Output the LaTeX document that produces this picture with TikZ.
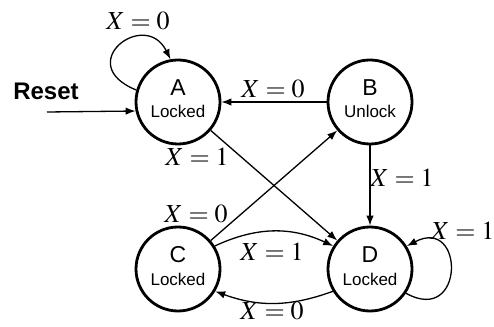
\documentclass[tikz,border=0pt]{standalone}
\usepackage{mathptmx}
\usepackage[no-math]{fontspec}
\setsansfont{Liberation Sans}
\usetikzlibrary{arrows.meta}
\tikzset{
  statecirc/.style={circle, draw, line width=2.8pt, minimum size=84pt, inner sep=0pt},
  letter/.style={font=\sffamily\fontsize{23}{23}\selectfont, anchor=base, inner sep=0pt},
  sub/.style={font=\sffamily\fontsize{17}{17}\selectfont, anchor=base, inner sep=0pt},
  lbl/.style={font=\fontsize{26}{28}\selectfont, inner sep=0pt},
  conn/.style={line width=1.3pt, -{Latex[length=10pt,width=7.5pt]}}
}
\begin{document}
\begin{tikzpicture}[x=1pt,y=1pt]
\useasboundingbox (0,0) rectangle (494,326);
% states
\node[statecirc] (A) at (178,224) {};
\node[statecirc] (B) at (370,224) {};
\node[statecirc] (C) at (178,57) {};
\node[statecirc] (D) at (370,57) {};
\node[letter] (At) at (178,230) {A};
\node[sub] (As) at (178,208) {Locked};
\node[letter] (Bt) at (370,230) {B};
\node[sub] (Bs) at (370,208) {Unlock};
\node[letter] (Ct) at (178,63) {C};
\node[sub] (Cs) at (178,41) {Locked};
\node[letter] (Dt) at (370,63) {D};
\node[sub] (Ds) at (370,41) {Locked};
% reset
\node[font=\sffamily\bfseries\fontsize{24}{26}\selectfont, inner sep=0pt] (reset) at (46,235) {Reset};
\coordinate (rs) at (47,214);
\draw[conn] (rs) -- (A.192);
% A self loop
\draw[conn] (A.164) .. controls (72,262) and (145,318) .. (A.100);
\node[lbl] (l1) at (138,305) {$X=0$};
% B -> A
\draw[conn] (B) -- (A);
\node[lbl] (l2) at (273,237) {$X=0$};
% A -> D
\draw[conn] (A) -- (D);
\node[lbl] (l3) at (197,169) {$X=1$};
% C -> B
\draw[conn] (C) -- (B);
\node[lbl] (l4) at (196,112) {$X=0$};
% B -> D
\draw[conn] (B) -- (D);
\node[lbl] (l5) at (402,148) {$X=1$};
% C -> D
\draw[conn] (C.32) to[out=25,in=155] (D.148);
\node[lbl] (l6) at (272,74) {$X=1$};
% D -> C
\draw[conn] (D.211) to[out=200,in=-20] (C.329);
\node[lbl] (l7) at (272,15) {$X=0$};
% D self loop
\draw[conn] (D.326) .. controls (465,0) and (465,110) .. (D.32);
\node[lbl, anchor=west] (l8) at (431,95) {$X=1$};
\end{tikzpicture}
\end{document}
